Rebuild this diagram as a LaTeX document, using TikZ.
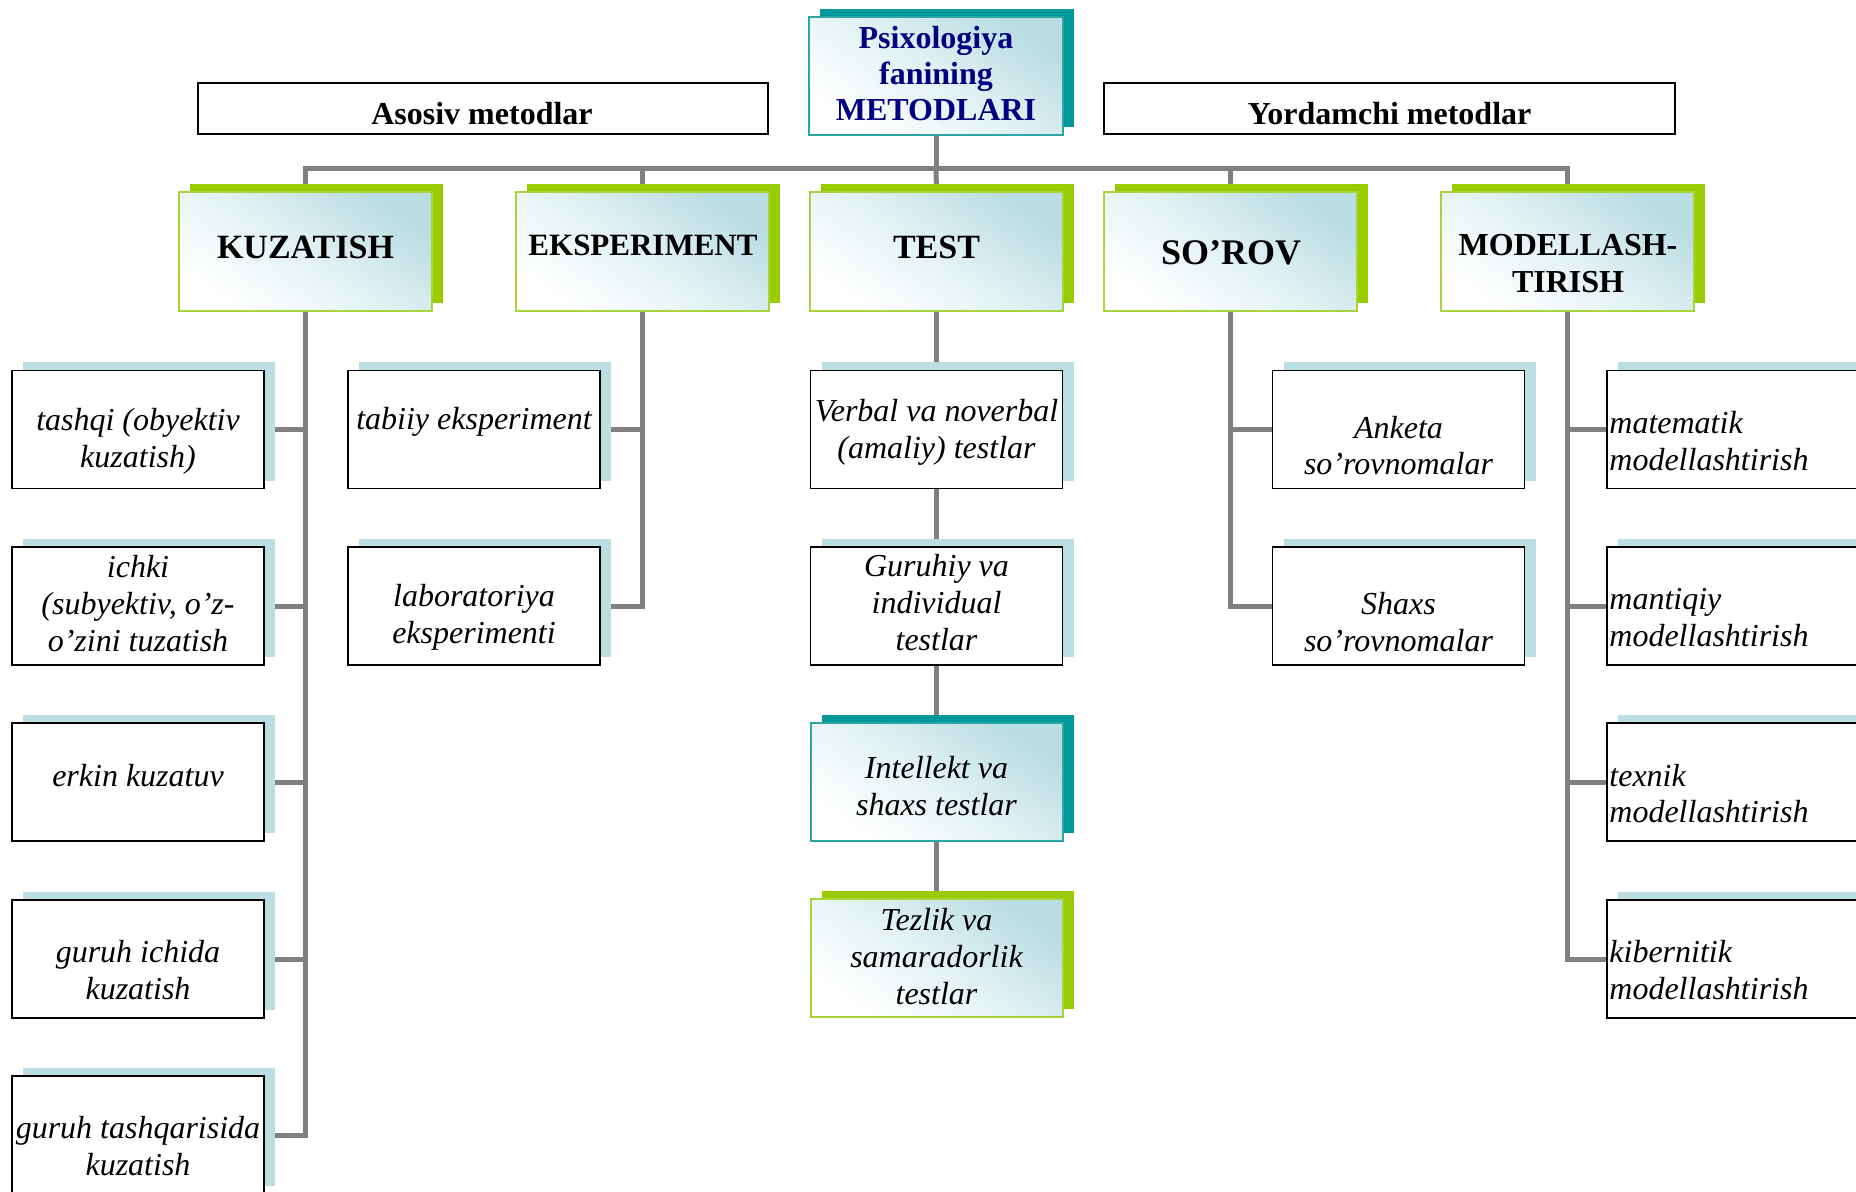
\documentclass[tikz,border=0pt]{standalone}
\usepackage{fontspec}
\setmainfont{Liberation Serif}
\usetikzlibrary{shadows,backgrounds}
\definecolor{linegray}{HTML}{808080}
\definecolor{leaf}{HTML}{99CC00}
\definecolor{leafedge}{HTML}{A8D43A}
\definecolor{tealdark}{HTML}{009999}
\definecolor{tealedge}{HTML}{2EA5A5}
\definecolor{pale}{HTML}{BADEE2}
\definecolor{gradc}{HTML}{B8DDE2}
\definecolor{navytext}{HTML}{000080}

\begin{document}
\begin{tikzpicture}[x=0.5pt, y=-0.5pt,
  conn/.style={draw=linegray, line width=2.5pt},
  frame/.style={draw=black, line width=0.9pt, fill=white, inner sep=0pt},
  subbox/.style={frame, minimum width=126pt, minimum height=59pt,
    general shadow={fill=pale, shadow xshift=5.5pt, shadow yshift=4pt}},
  glow/.style={top color=gradc, bottom color=white, middle color=gradc!40!white, shading angle=-35},
  greenbox/.style={inner sep=0pt, draw=leafedge, line width=1pt, glow,
    general shadow={fill=leaf, shadow xshift=5.5pt, shadow yshift=4pt}},
  tealbox/.style={inner sep=0pt, draw=tealedge, line width=1pt, glow,
    general shadow={fill=tealdark, shadow xshift=5.5pt, shadow yshift=4pt}},
  catbox/.style={greenbox, minimum width=126.5pt, minimum height=59.5pt},
  itxt/.style={inner sep=0pt, align=center, font=\fontsize{16pt}{18.35pt}\selectfont\itshape},
  ltxt/.style={itxt, align=left, anchor=west},
  htxt/.style={inner sep=0pt, align=center, font=\fontsize{#1}{18.35pt}\selectfont\bfseries},
  htxt/.default=17pt
]
\useasboundingbox (0,0) rectangle (1856,1192);
\clip (0,0) rectangle (1856,1192);

% ---------- top row ----------
\node[tealbox, minimum width=127pt, minimum height=59pt] (title) at (936,76) {};
\node[frame, minimum width=285pt, minimum height=25.5pt] (asos) at (483,108.5) {};
\node[frame, minimum width=285.5pt, minimum height=25.5pt] (yord) at (1389.5,108.5) {};
\coordinate (bus) at (936,169);

% ---------- method groups ----------
\node[catbox] (kz) at (305.5,252) {};
\node[catbox] (ex) at (642,252) {};
\node[catbox] (ts) at (936.5,252) {};
\node[catbox] (sr) at (1230.5,252) {};
\node[catbox] (md) at (1567,252) {};

% ---------- individual methods ----------
\node[subbox] (k1) at (138,429.5) {};
\node[subbox] (k2) at (138,606) {};
\node[subbox] (k3) at (138,782) {};
\node[subbox] (k4) at (138,959) {};
\node[subbox] (k5) at (138,1135) {};
\node[subbox] (e1) at (474,429.5) {};
\node[subbox] (e2) at (474,606) {};
\node[subbox] (t1) at (936.5,429.5) {};
\node[subbox] (t2) at (936.5,606) {};
\node[tealbox, minimum width=126pt, minimum height=59pt] (t3) at (936.5,782) {};
\node[greenbox, minimum width=126pt, minimum height=59pt] (t4) at (936.5,958) {};
\node[subbox] (s1) at (1398.5,429.5) {};
\node[subbox] (s2) at (1398.5,606) {};
\node[subbox] (m1) at (1733,429.5) {};
\node[subbox] (m2) at (1733,606) {};
\node[subbox] (m3) at (1733,782) {};
\node[subbox] (m4) at (1733,959) {};

% ---------- connectors, kept behind the boxes ----------
\begin{scope}[on background layer]
  \draw[conn] (title.south) -- (bus);
  \draw[conn] (bus) -| (kz.north);
  \draw[conn] (bus) -| (ex.north);
  \draw[conn] (bus) -| (sr.north);
  \draw[conn] (bus) -| (md.north);
  \draw[conn] (bus) -- (ts.north);

  \draw[conn] (kz.south) |- (k5.east);
  \foreach \n in {k1,k2,k3,k4} \draw[conn] (kz.south |- \n.east) -- (\n.east);
  \draw[conn] (ex.south) |- (e2.east);
  \draw[conn] (ex.south |- e1.east) -- (e1.east);
  \draw[conn] (sr.south) |- (s2.west);
  \draw[conn] (sr.south |- s1.west) -- (s1.west);
  \draw[conn] (md.south) |- (m4.west);
  \foreach \n in {m1,m2,m3} \draw[conn] (md.south |- \n.west) -- (\n.west);
  \draw[conn] (ts.south) -- (t1.north) (t1.south) -- (t2.north)
              (t2.south) -- (t3.north) (t3.south) -- (t4.north);
\end{scope}

% ---------- texts ----------
\node[inner sep=0pt, align=center, text=navytext, font=\fontsize{16pt}{18pt}\selectfont\bfseries] (titlet) at (936,74) {Psixologiya\\fanining\\METODLARI};
\node[htxt=16pt] (asost) at (482,113.6) {Asosiv metodlar};
\node[htxt=16pt] (yordt) at (1389.6,113.6) {Yordamchi metodlar};

\node[htxt=17pt] (kzt) at (305.5,247.4) {KUZATISH};
\node[htxt=15.5pt] (ext) at (643,245) {EKSPERIMENT};
\node[htxt=17pt] (tst) at (936.5,247.4) {TEST};
\node[htxt=18pt] (srt) at (1231,253.3) {SO’ROV};
\node[htxt=16pt] (mdt) at (1568,263.4) {MODELLASH-\\TIRISH};

\node[itxt] (k1t) at (138,441) {tashqi (obyektiv\\kuzatish)};
\node[itxt] (k2t) at (138,603.6) {ichki\\(subyektiv, o’z-\\o’zini tuzatish};
\node[itxt] (k3t) at (138,775.3) {erkin kuzatuv};
\node[itxt] (k4t) at (138,970) {guruh ichida\\kuzatish};
\node[itxt] (k5t) at (138,1146.4) {guruh tashqarisida\\kuzatish};
\node[itxt] (e1t) at (474,421.4) {tabiiy eksperiment};
\node[itxt] (e2t) at (474,617.3) {laboratoriya\\eksperimenti};
\node[itxt] (t1t) at (936.5,432.6) {Verbal va noverbal\\(amaliy) testlar};
\node[itxt] (t2t) at (936.5,602.5) {Guruhiy va\\individual\\testlar};
\node[itxt] (t3t) at (936.5,786) {Intellekt va\\shaxs testlar};
\node[itxt] (t4t) at (936.5,956.4) {Tezlik va\\samaradorlik\\testlar};
\node[itxt] (s1t) at (1398.5,445.7) {Anketa\\so’rovnomalar};
\node[itxt] (s2t) at (1398.5,622) {Shaxs\\so’rovnomalar};
\node[ltxt] (m1t) at (1609,441) {matematik\\modellashtirish};
\node[ltxt] (m2t) at (1609,617.3) {mantiqiy\\modellashtirish};
\node[ltxt] (m3t) at (1609,793.7) {texnik\\modellashtirish};
\node[ltxt] (m4t) at (1609,970) {kibernitik\\modellashtirish};
\end{tikzpicture}
\end{document}
